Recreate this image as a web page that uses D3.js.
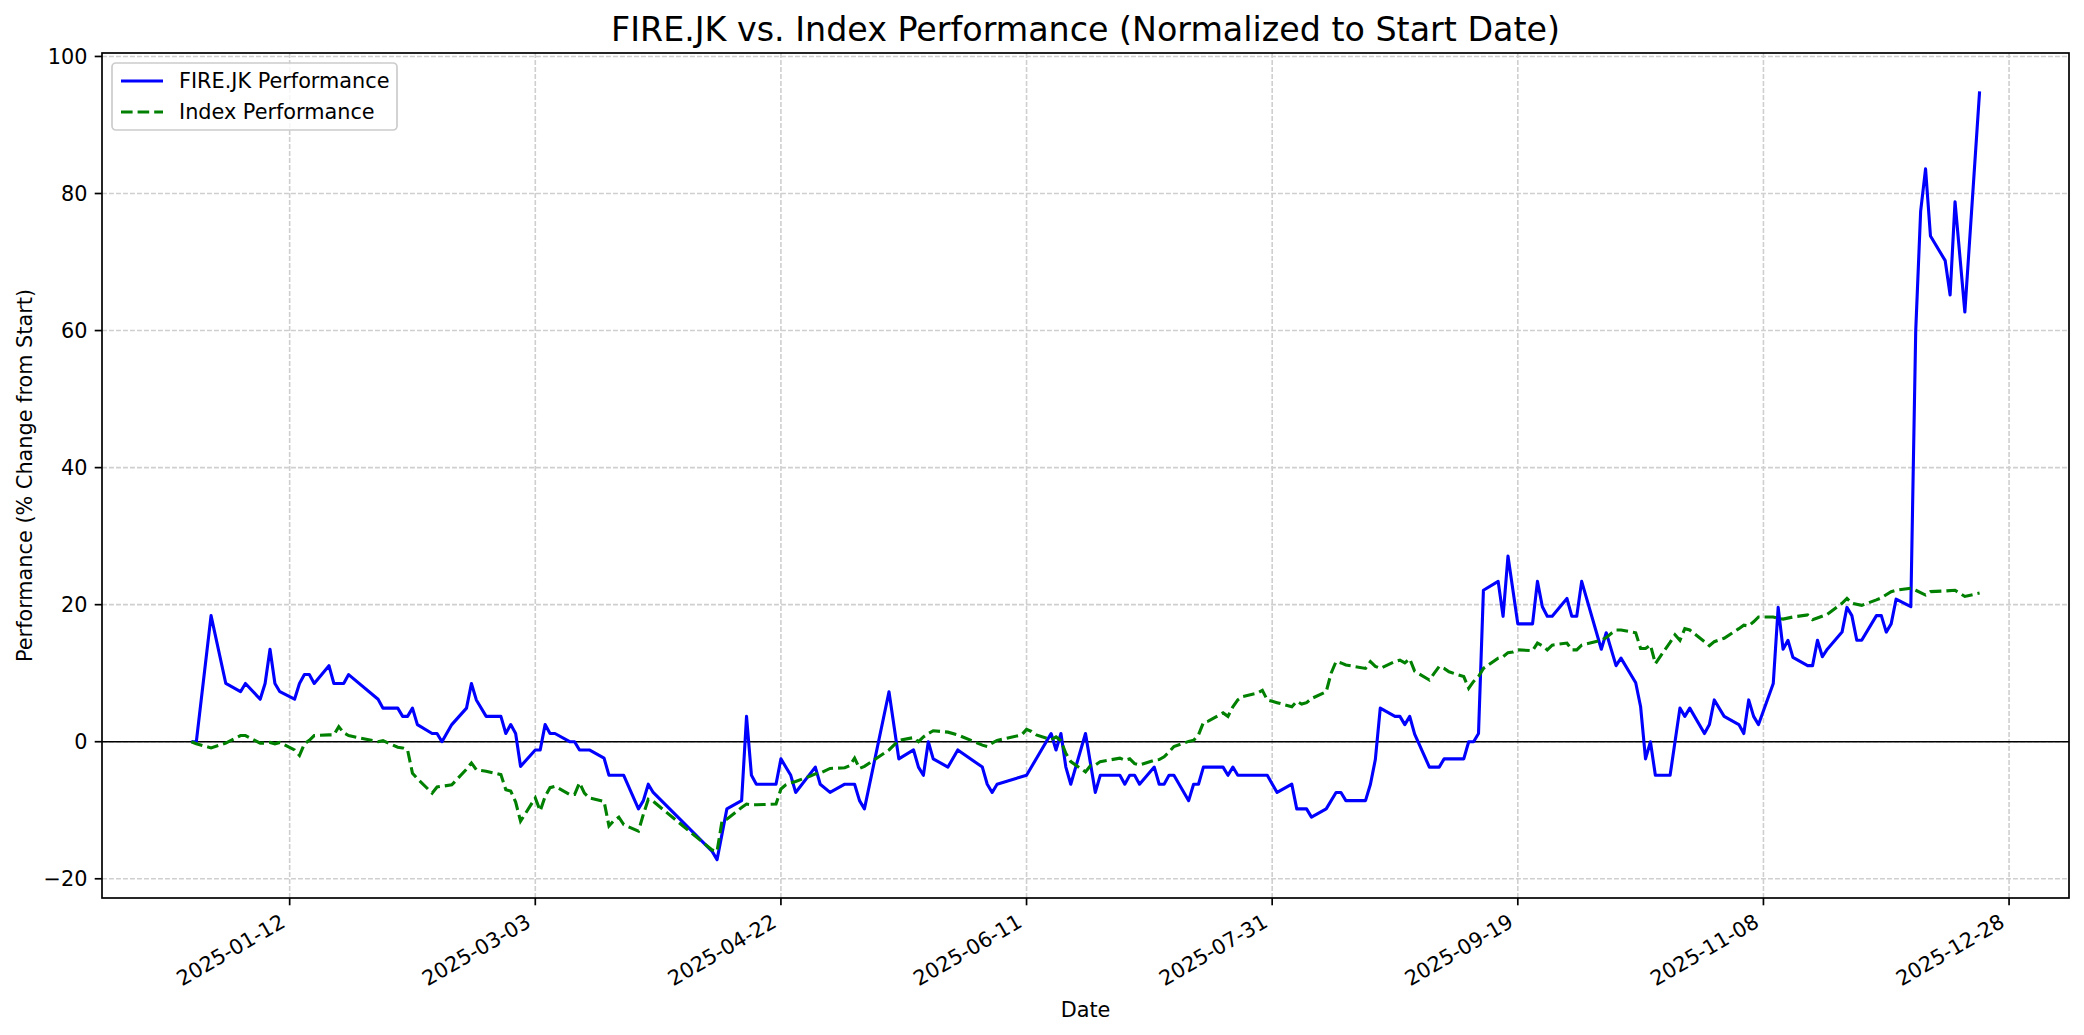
<!DOCTYPE html>
<html><head><meta charset="utf-8">
<script src="https://cdn.jsdelivr.net/npm/d3@7"></script>
<style>body{margin:0;background:#fff;} svg{display:block;font-family:"DejaVu Sans",sans-serif;}</style>
</head><body><svg id="c" width="2084" height="1035"></svg>
<script>
const titleText = "FIRE.JK vs. Index Performance (Normalized to Start Date)";
const seriesNames = ["FIRE.JK Performance", "Index Performance"];

const fireDates = ["2024-12-23","2024-12-24","2024-12-27","2024-12-30","2025-01-02","2025-01-03","2025-01-06","2025-01-07","2025-01-08","2025-01-09","2025-01-10","2025-01-13","2025-01-14","2025-01-15","2025-01-16","2025-01-17","2025-01-20","2025-01-21","2025-01-23","2025-01-24","2025-01-30","2025-01-31","2025-02-03","2025-02-04","2025-02-05","2025-02-06","2025-02-07","2025-02-10","2025-02-11","2025-02-12","2025-02-14","2025-02-17","2025-02-18","2025-02-19","2025-02-21","2025-02-24","2025-02-25","2025-02-26","2025-02-27","2025-02-28","2025-03-03","2025-03-04","2025-03-05","2025-03-06","2025-03-07","2025-03-10","2025-03-11","2025-03-12","2025-03-14","2025-03-17","2025-03-18","2025-03-21","2025-03-24","2025-03-25","2025-03-26","2025-03-27","2025-04-08","2025-04-09","2025-04-11","2025-04-14","2025-04-15","2025-04-16","2025-04-17","2025-04-21","2025-04-22","2025-04-24","2025-04-25","2025-04-29","2025-04-30","2025-05-02","2025-05-05","2025-05-07","2025-05-08","2025-05-09","2025-05-14","2025-05-16","2025-05-19","2025-05-20","2025-05-21","2025-05-22","2025-05-23","2025-05-26","2025-05-28","2025-06-02","2025-06-03","2025-06-04","2025-06-05","2025-06-11","2025-06-16","2025-06-17","2025-06-18","2025-06-19","2025-06-20","2025-06-23","2025-06-25","2025-06-26","2025-06-30","2025-07-01","2025-07-02","2025-07-03","2025-07-04","2025-07-07","2025-07-08","2025-07-09","2025-07-10","2025-07-11","2025-07-14","2025-07-15","2025-07-16","2025-07-17","2025-07-21","2025-07-22","2025-07-23","2025-07-24","2025-07-30","2025-08-01","2025-08-04","2025-08-05","2025-08-07","2025-08-08","2025-08-11","2025-08-13","2025-08-14","2025-08-15","2025-08-19","2025-08-20","2025-08-21","2025-08-22","2025-08-25","2025-08-26","2025-08-27","2025-08-28","2025-08-29","2025-09-01","2025-09-03","2025-09-04","2025-09-08","2025-09-09","2025-09-10","2025-09-11","2025-09-12","2025-09-15","2025-09-16","2025-09-17","2025-09-19","2025-09-22","2025-09-23","2025-09-24","2025-09-25","2025-09-26","2025-09-29","2025-09-30","2025-10-01","2025-10-02","2025-10-06","2025-10-07","2025-10-09","2025-10-10","2025-10-13","2025-10-14","2025-10-15","2025-10-16","2025-10-17","2025-10-20","2025-10-22","2025-10-23","2025-10-24","2025-10-27","2025-10-28","2025-10-29","2025-10-31","2025-11-03","2025-11-04","2025-11-05","2025-11-06","2025-11-07","2025-11-10","2025-11-11","2025-11-12","2025-11-13","2025-11-14","2025-11-17","2025-11-18","2025-11-19","2025-11-20","2025-11-21","2025-11-24","2025-11-25","2025-11-26","2025-11-27","2025-11-28","2025-12-01","2025-12-02","2025-12-03","2025-12-04","2025-12-05","2025-12-08","2025-12-09","2025-12-10","2025-12-11","2025-12-12","2025-12-15","2025-12-16","2025-12-17","2025-12-19","2025-12-22"];
const fireValues = [0,0,18.4,8.5,7.3,8.5,6.2,8.5,13.5,8.5,7.3,6.2,8.5,9.8,9.8,8.5,11.1,8.5,8.5,9.8,6.2,4.9,4.9,3.7,3.7,4.9,2.5,1.2,1.2,0,2.5,4.9,8.5,6.1,3.7,3.7,1.2,2.5,1.2,-3.6,-1.2,-1.2,2.5,1.2,1.2,0,0,-1.2,-1.2,-2.4,-4.9,-4.9,-9.8,-8.6,-6.2,-7.4,-16.0,-17.2,-9.8,-8.6,3.7,-4.9,-6.2,-6.2,-2.5,-4.9,-7.4,-3.7,-6.2,-7.4,-6.2,-6.2,-8.6,-9.8,7.3,-2.5,-1.2,-3.7,-4.9,0,-2.5,-3.7,-1.2,-3.7,-6.2,-7.4,-6.2,-4.9,1.2,-1.2,1.2,-3.7,-6.2,1.2,-7.4,-4.9,-4.9,-6.2,-4.9,-4.9,-6.2,-3.7,-6.2,-6.2,-4.9,-4.9,-8.6,-6.2,-6.2,-3.7,-3.7,-4.9,-3.7,-4.9,-4.9,-7.4,-6.2,-9.8,-9.8,-11.0,-9.8,-7.4,-7.4,-8.6,-8.6,-6.2,-2.6,4.9,3.7,3.7,2.5,3.7,1.1,-3.7,-3.7,-2.5,-2.5,0,0,1.2,22.1,23.4,18.3,27.1,17.2,17.2,23.4,19.7,18.3,18.3,20.9,18.3,18.3,23.4,13.5,15.9,11.1,12.2,8.6,5.1,-2.5,0,-4.9,-4.9,4.9,3.7,4.9,1.2,2.5,6.1,3.7,2.5,1.2,6.1,3.7,2.5,8.5,19.6,13.5,14.8,12.3,11.1,11.1,14.8,12.4,13.5,16.0,19.6,18.4,14.8,14.8,18.4,18.4,16.0,17.2,20.8,19.7,60.0,77.4,83.6,73.8,70.2,65.2,78.8,62.7,94.9];

const indexDates = ["2024-12-23","2024-12-24","2024-12-27","2024-12-30","2025-01-02","2025-01-03","2025-01-06","2025-01-07","2025-01-08","2025-01-09","2025-01-10","2025-01-13","2025-01-14","2025-01-15","2025-01-16","2025-01-17","2025-01-20","2025-01-21","2025-01-22","2025-01-23","2025-01-24","2025-01-30","2025-01-31","2025-02-03","2025-02-04","2025-02-05","2025-02-06","2025-02-07","2025-02-10","2025-02-11","2025-02-12","2025-02-14","2025-02-17","2025-02-18","2025-02-19","2025-02-20","2025-02-21","2025-02-24","2025-02-25","2025-02-26","2025-02-27","2025-02-28","2025-03-03","2025-03-04","2025-03-05","2025-03-06","2025-03-07","2025-03-10","2025-03-11","2025-03-12","2025-03-13","2025-03-14","2025-03-17","2025-03-18","2025-03-19","2025-03-20","2025-03-21","2025-03-24","2025-03-25","2025-03-26","2025-03-27","2025-04-08","2025-04-09","2025-04-10","2025-04-11","2025-04-14","2025-04-15","2025-04-16","2025-04-17","2025-04-21","2025-04-22","2025-04-23","2025-04-24","2025-04-25","2025-04-28","2025-04-29","2025-04-30","2025-05-02","2025-05-05","2025-05-06","2025-05-07","2025-05-08","2025-05-09","2025-05-14","2025-05-15","2025-05-16","2025-05-19","2025-05-20","2025-05-21","2025-05-22","2025-05-23","2025-05-26","2025-05-28","2025-06-02","2025-06-03","2025-06-04","2025-06-05","2025-06-10","2025-06-11","2025-06-12","2025-06-13","2025-06-16","2025-06-17","2025-06-18","2025-06-19","2025-06-20","2025-06-23","2025-06-24","2025-06-25","2025-06-26","2025-06-30","2025-07-01","2025-07-02","2025-07-03","2025-07-04","2025-07-07","2025-07-08","2025-07-09","2025-07-10","2025-07-11","2025-07-14","2025-07-15","2025-07-16","2025-07-17","2025-07-18","2025-07-21","2025-07-22","2025-07-23","2025-07-24","2025-07-25","2025-07-28","2025-07-29","2025-07-30","2025-07-31","2025-08-01","2025-08-04","2025-08-05","2025-08-06","2025-08-07","2025-08-08","2025-08-11","2025-08-12","2025-08-13","2025-08-14","2025-08-15","2025-08-19","2025-08-20","2025-08-21","2025-08-22","2025-08-25","2025-08-26","2025-08-27","2025-08-28","2025-08-29","2025-09-01","2025-09-02","2025-09-03","2025-09-04","2025-09-05","2025-09-08","2025-09-09","2025-09-10","2025-09-11","2025-09-12","2025-09-15","2025-09-16","2025-09-17","2025-09-18","2025-09-19","2025-09-22","2025-09-23","2025-09-24","2025-09-25","2025-09-26","2025-09-29","2025-09-30","2025-10-01","2025-10-02","2025-10-03","2025-10-06","2025-10-07","2025-10-08","2025-10-09","2025-10-10","2025-10-13","2025-10-14","2025-10-15","2025-10-16","2025-10-17","2025-10-20","2025-10-21","2025-10-22","2025-10-23","2025-10-24","2025-10-27","2025-10-28","2025-10-29","2025-10-31","2025-11-03","2025-11-04","2025-11-05","2025-11-06","2025-11-07","2025-11-10","2025-11-11","2025-11-12","2025-11-14","2025-11-17","2025-11-18","2025-11-21","2025-11-24","2025-11-25","2025-11-26","2025-11-28","2025-12-01","2025-12-02","2025-12-04","2025-12-05","2025-12-08","2025-12-09","2025-12-11","2025-12-12","2025-12-15","2025-12-17","2025-12-19","2025-12-22"];
const indexValues = [0,-0.3,-0.9,-0.2,0.9,0.9,-0.2,-0.2,-0.1,-0.3,-0.1,-1.2,-2.0,-0.3,0.2,0.9,1.0,1.0,2.2,1.3,0.9,0,0.15,-0.8,-0.9,-1.2,-4.6,-5.4,-7.5,-6.6,-6.5,-6.3,-4.0,-3.1,-4.1,-4.2,-4.3,-4.8,-7.0,-7.2,-8.8,-11.6,-8.2,-10.1,-8.0,-6.7,-6.5,-7.7,-7.7,-6.0,-7.5,-8.2,-8.7,-12.3,-11.5,-11.0,-12.1,-13.05,-10.6,-8.4,-8.7,-15.8,-16.0,-11.6,-11.3,-9.6,-9.1,-9.2,-9.2,-9.1,-6.9,-6.3,-6.0,-5.8,-5.0,-4.7,-4.6,-3.9,-3.8,-3.5,-2.4,-3.9,-3.6,-1.2,-0.5,0.2,0.6,0,0.7,1.2,1.6,1.4,1.0,-0.5,-0.7,-0.2,0.2,1.0,1.8,1.5,1.0,0.3,0.7,0.15,-1.7,-2.9,-4.4,-3.5,-3.4,-2.9,-2.4,-2.7,-2.5,-3.2,-3.4,-2.7,-2.6,-2.2,-1.5,-0.7,0.05,0.2,1.0,2.8,3.0,4.2,3.7,5.1,6.1,6.6,7.1,7.5,6.1,5.9,5.7,5.1,5.9,5.5,5.7,6.3,7.3,10.0,11.7,11.5,11.2,10.7,11.7,11.0,10.7,11.7,11.9,11.5,12.1,10.3,9.0,10.0,11.0,10.7,10.2,9.5,7.8,8.8,9.5,10.7,12.2,12.4,13.0,13.1,13.4,13.3,14.4,14.0,13.4,14.1,14.4,13.4,13.4,14.1,14.3,14.8,15.2,15.8,16.3,16.3,15.9,13.6,13.6,14.1,11.4,14.5,15.6,14.8,16.5,16.3,14.6,14.0,14.6,15.1,16.5,17.0,16.9,17.5,18.2,18.2,18.0,17.9,18.2,18.5,17.8,18.6,20.2,20.9,20.2,19.9,20.7,21.0,21.9,22.1,22.4,22.1,21.4,21.9,22.0,22.1,21.2,21.7];

const xTickLabels = ["2025-01-12","2025-03-03","2025-04-22","2025-06-11","2025-07-31","2025-09-19","2025-11-08","2025-12-28"];
const yTickValues = [-20, 0, 20, 40, 60, 80, 100];

const parse = d3.utcParse("%Y-%m-%d");
const fire = fireDates.map((d, i) => ({date: parse(d), v: fireValues[i]}));
const idx = indexDates.map((d, i) => ({date: parse(d), v: indexValues[i]}));

const L = 102, R = 2069, T = 53, B = 898;
const svg = d3.select("#c");

// matplotlib-like 5% margins
const allDates = fire.concat(idx).map(d => +d.date);
const dMin = d3.min(allDates), dMax = d3.max(allDates);
const dPad = (dMax - dMin) * 0.05;
const x = d3.scaleUtc().domain([new Date(dMin - dPad), new Date(dMax + dPad)]).range([L, R]);
const allV = fire.concat(idx).map(d => d.v);
const vMin = d3.min(allV), vMax = d3.max(allV), vPad = (vMax - vMin) * 0.05;
const y = d3.scaleLinear().domain([vMin - vPad, vMax + vPad]).range([B, T]);

const xTicks = xTickLabels.map(parse);

// grid
const grid = svg.append("g").attr("stroke", "#cfcfcf").attr("stroke-width", 1.6).attr("stroke-dasharray", "4.9,2.1");
xTicks.forEach(t => grid.append("line").attr("x1", x(t)).attr("x2", x(t)).attr("y1", T).attr("y2", B));
yTickValues.forEach(v => grid.append("line").attr("x1", L).attr("x2", R).attr("y1", y(v)).attr("y2", y(v)));

// zero line
svg.append("line").attr("x1", L).attr("x2", R).attr("y1", y(0)).attr("y2", y(0)).attr("stroke", "#000").attr("stroke-width", 1.3);

svg.append("clipPath").attr("id", "clip").append("rect").attr("x", L).attr("y", T).attr("width", R - L).attr("height", B - T);

const line = d3.line().x(d => x(d.date)).y(d => y(d.v));
svg.append("path").datum(fire).attr("clip-path", "url(#clip)").attr("d", line)
  .attr("fill", "none").attr("stroke", "#0000ff").attr("stroke-width", 3.1).attr("stroke-linejoin", "round");
svg.append("path").datum(idx).attr("clip-path", "url(#clip)").attr("d", line)
  .attr("fill", "none").attr("stroke", "#008000").attr("stroke-width", 3.1).attr("stroke-dasharray", "11.6,5");

// spines
svg.append("rect").attr("x", L).attr("y", T).attr("width", R - L).attr("height", B - T)
  .attr("fill", "none").attr("stroke", "#000").attr("stroke-width", 1.7);

// x ticks
const fs = 20.8;
const xt = svg.append("g");
xTicks.forEach((t, i) => {
  const px = x(t);
  xt.append("line").attr("x1", px).attr("x2", px).attr("y1", B).attr("y2", B + 7.3).attr("stroke", "#000").attr("stroke-width", 1.7);
  xt.append("text").attr("transform", `translate(${px - 3},${B + 28}) rotate(-30)`)
    .attr("text-anchor", "end").attr("font-size", fs).attr("fill", "#000").text(xTickLabels[i]);
});
// y ticks
const fmt = d3.format("d");
yTickValues.forEach(v => {
  const py = y(v);
  svg.append("line").attr("x1", L - 7.3).attr("x2", L).attr("y1", py).attr("y2", py).attr("stroke", "#000").attr("stroke-width", 1.7);
  svg.append("text").attr("x", L - 14.6).attr("y", py).attr("dy", "0.36em").attr("text-anchor", "end")
    .attr("font-size", fs).attr("fill", "#000").text(fmt(v));
});

// labels
svg.append("text").attr("x", (L + R) / 2).attr("y", 41).attr("text-anchor", "middle").attr("font-size", 33.3).attr("fill", "#000").text(titleText);
svg.append("text").attr("x", (L + R) / 2).attr("y", 1010).attr("dy", "0.36em").attr("text-anchor", "middle").attr("font-size", fs).attr("fill", "#000").text("Date");
svg.append("text").attr("transform", `translate(24,${(T + B) / 2}) rotate(-90)`).attr("dy", "0.36em").attr("text-anchor", "middle")
  .attr("font-size", fs).attr("fill", "#000").text("Performance (% Change from Start)");

// legend
const lg = svg.append("g");
lg.append("rect").attr("x", 112).attr("y", 63).attr("width", 285).attr("height", 67).attr("rx", 4)
  .attr("fill", "#fff").attr("fill-opacity", 0.8).attr("stroke", "#cccccc").attr("stroke-width", 1.7);
const legendItems = [{name: seriesNames[0], color: "#0000ff", dash: null, yy: 81}, {name: seriesNames[1], color: "#008000", dash: "11.6,5", yy: 112}];
legendItems.forEach(it => {
  lg.append("line").attr("x1", 121).attr("x2", 163).attr("y1", it.yy).attr("y2", it.yy)
    .attr("stroke", it.color).attr("stroke-width", 3.1).attr("stroke-dasharray", it.dash);
  lg.append("text").attr("x", 179).attr("y", it.yy).attr("dy", "0.36em").attr("font-size", fs).attr("fill", "#000").text(it.name);
});
</script></body></html>
